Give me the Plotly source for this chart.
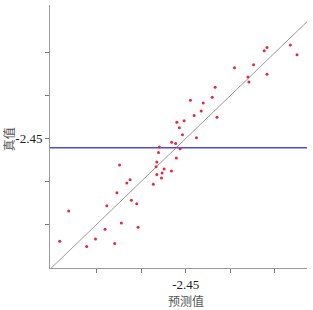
import plotly.graph_objects as go

# predicted values (x) and true values (y)
predicted = [
    -2.3326, -2.3251, -2.3588, -2.3619, -2.3739, -2.3953, -2.3802, -2.3791, -2.3588, -2.4170,
    -2.4447, -2.4203, -2.4304, -2.4327, -2.4406, -2.4150, -2.4600, -2.4518, -2.4572, -2.4537,
    -2.4380, -2.4659, -2.4614, -2.4797, -2.4563, -2.4806, -2.4606, -2.5243, -2.4825, -2.4833,
    -2.4743, -2.4765, -2.4825, -2.4661, -2.4773, -2.5125, -2.5162, -2.4864, -2.5273, -2.5110,
    -2.5050, -2.5386, -2.5814, -2.5223, -2.5035, -2.5406, -2.5915, -2.5513, -2.5612, -2.5297,
]
actual = [
    -2.3410, -2.3523, -2.3439, -2.3477, -2.3640, -2.3675, -2.3783, -2.3841, -2.3752, -2.3903,
    -2.4054, -2.4020, -2.4086, -2.4179, -2.4232, -2.4253, -2.4310, -2.4293, -2.4375, -2.4456,
    -2.4491, -2.4543, -2.4558, -2.4599, -2.4619, -2.4663, -2.4727, -2.4809, -2.4774, -2.4829,
    -2.4855, -2.4902, -2.4920, -2.4879, -2.4960, -2.4980, -2.5019, -2.5034, -2.5133, -2.5219,
    -2.5261, -2.5284, -2.5345, -2.5486, -2.5535, -2.5558, -2.5696, -2.5671, -2.5759, -2.5724,
]

x_range = [-2.6024, -2.3139]
y_range = [-2.6009, -2.2944]
ref_level = -2.4607  # horizontal reference line (true value)

tick_vals = [-2.55, -2.50, -2.45, -2.40, -2.35]
tick_text = ["", "", "-2.45", "", ""]

fig = go.Figure()

# identity line y = x
fig.add_trace(go.Scatter(
    x=x_range, y=x_range, mode="lines",
    line=dict(color="#9a9a9a", width=1), hoverinfo="skip", showlegend=False,
))
# horizontal reference line
fig.add_trace(go.Scatter(
    x=x_range, y=[ref_level, ref_level], mode="lines",
    line=dict(color="#4a4ae6", width=1.5), hoverinfo="skip", showlegend=False,
))
# points
fig.add_trace(go.Scatter(
    x=predicted, y=actual, mode="markers",
    marker=dict(color="#e8283c", size=3, line=dict(width=0)),
    showlegend=False,
))

axis_common = dict(
    showgrid=False, zeroline=False, showline=True, linecolor="#9a9a9a", linewidth=1,
    ticks="outside", ticklen=4, tickcolor="#7a7a7a", tickwidth=1,
    tickvals=tick_vals, ticktext=tick_text,
    tickfont=dict(family="Liberation Serif", size=13, color="#222222"),
    mirror=False, automargin=False,
)

fig.update_layout(
    template="none",
    width=313, height=310,
    margin=dict(l=50, r=6, t=5, b=42),
    paper_bgcolor="white", plot_bgcolor="white",
    xaxis=dict(range=x_range, **axis_common),
    yaxis=dict(range=y_range, **axis_common),
    annotations=[
        dict(text="预测值", xref="paper", yref="paper", x=0.53, y=0, yshift=-32,
             xanchor="center", yanchor="middle", showarrow=False,
             font=dict(family="Noto Sans CJK SC", size=12, color="#555555")),
        dict(text="真值", xref="paper", yref="paper", x=0, y=0.49, xshift=-42,
             xanchor="center", yanchor="middle", showarrow=False, textangle=-90,
             font=dict(family="Noto Sans CJK SC", size=12, color="#555555")),
    ],
)

fig.write_html("out.html")
